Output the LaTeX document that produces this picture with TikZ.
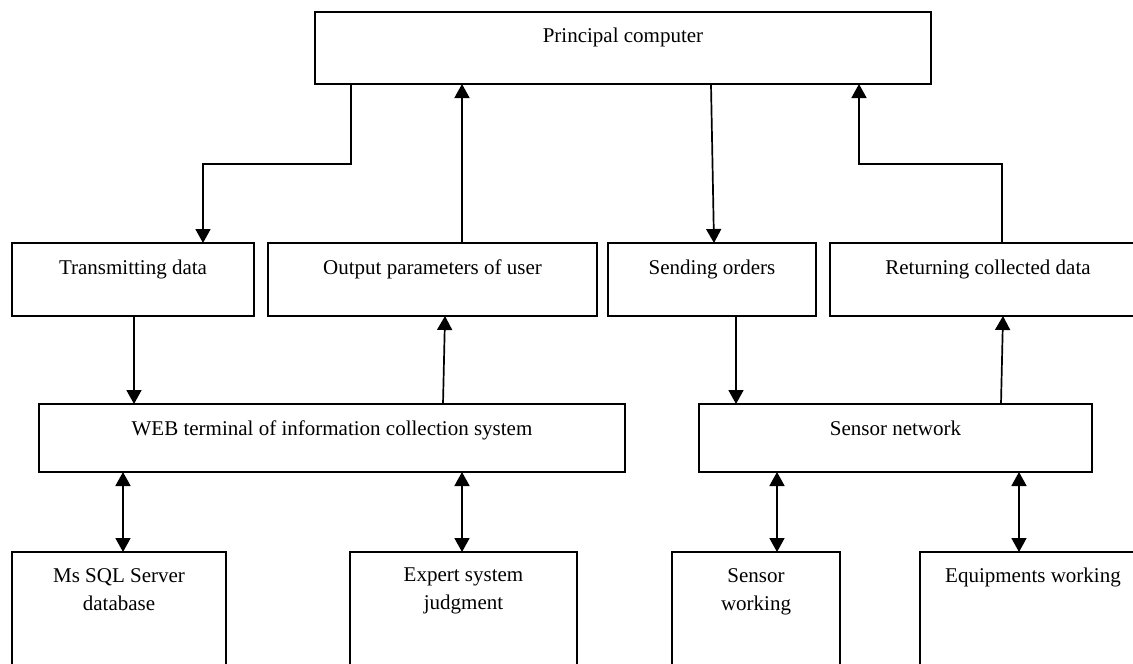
\documentclass[tikz,border=0pt]{standalone}
\usepackage{fontspec}
\setmainfont{Liberation Serif}
\usetikzlibrary{arrows.meta}
\tikzset{
  box/.style={draw, line width=1.7pt, inner sep=0pt, outer sep=0pt},
  lbl/.style={inner sep=0pt, font=\fontsize{21}{28}\selectfont, align=center},
  arr/.style={line width=1.7pt, -{Triangle[width=15pt,length=14pt]}},
  darr/.style={line width=1.7pt, {Triangle[width=15pt,length=14pt]}-{Triangle[width=15pt,length=14pt]}},
}
\begin{document}
\begin{tikzpicture}[x=1pt,y=-1pt]
\useasboundingbox (0,0) rectangle (1133,664);
\fill[white] (0,0) rectangle (1133,664);
\clip (0,0) rectangle (1133,664);

% boxes
\node[box, minimum width=616pt, minimum height=72pt] (pc) at (623,48) {};
\node[box, minimum width=242pt, minimum height=73pt] (td) at (133,279.5) {};
\node[box, minimum width=329pt, minimum height=73pt] (op) at (432.5,279.5) {};
\node[box, minimum width=208pt, minimum height=73pt] (so) at (712,279.5) {};
\node[box, minimum width=316pt, minimum height=73pt] (rc) at (988,279.5) {};
\node[box, minimum width=586pt, minimum height=68pt] (web) at (332,438) {};
\node[box, minimum width=393pt, minimum height=68pt] (sn) at (895.5,438) {};
\node[box, minimum width=214pt, minimum height=148pt] (ms) at (119,626) {};
\node[box, minimum width=227pt, minimum height=148pt] (ex) at (463.5,626) {};
\node[box, minimum width=168pt, minimum height=148pt] (sw) at (756,626) {};
\node[box, minimum width=226pt, minimum height=148pt] (eq) at (1033,626) {};

% texts
\node[lbl, anchor=base] (pc-t) at (623,42) {Principal computer};
\node[lbl, anchor=base] (td-t) at (133,274) {Transmitting data};
\node[lbl, anchor=base] (op-t) at (432.5,274) {Output parameters of user};
\node[lbl, anchor=base] (so-t) at (712,274) {Sending orders};
\node[lbl, anchor=base] (rc-t) at (988,274) {Returning collected data};
\node[lbl, anchor=base] (web-t) at (332,435) {WEB terminal of information collection system};
\node[lbl, anchor=base] (sn-t) at (895.5,435) {Sensor network};
\node[lbl, anchor=north] (ms-t) at (119,568) {Ms SQL Server\\database};
\node[lbl, anchor=north] (ex-t) at (463.5,568) {Expert system\\judgment};
\node[lbl, anchor=north] (sw-t) at (756,568) {Sensor\\working};
\node[lbl, anchor=base] (eq-t) at (1033,582) {Equipments working};

% connector guide coordinates
\coordinate (k1) at (351,164);
\coordinate (k2) at (203,164);
\coordinate (k3) at (462,0);
\coordinate (k4) at (711,0);
\coordinate (k5) at (714,0);
\coordinate (k6) at (1002,164);
\coordinate (k7) at (859,164);
\coordinate (k8) at (134,0);
\coordinate (k9) at (443,0);
\coordinate (k10) at (445,0);
\coordinate (k11) at (736,0);
\coordinate (k12) at (1001,0);
\coordinate (k13) at (1003,0);
\coordinate (d1) at (123,0);
\coordinate (d2) at (462,0);
\coordinate (d3) at (777,0);
\coordinate (d4) at (1019,0);

% connectors
\draw[arr] (k1 |- pc.south) -- (k1) -- (k2) -- (k2 |- td.north);
\draw[arr] (k3 |- op.north) -- (k3 |- pc.south);
\draw[arr] (k4 |- pc.south) -- (k5 |- so.north);
\draw[arr] (k6 |- rc.north) -- (k6) -- (k7) -- (k7 |- pc.south);
\draw[arr] (k8 |- td.south) -- (k8 |- web.north);
\draw[arr] (k9 |- web.north) -- (k10 |- op.south);
\draw[arr] (k11 |- so.south) -- (k11 |- sn.north);
\draw[arr] (k12 |- sn.north) -- (k13 |- rc.south);
\draw[darr] (d1 |- web.south) -- (d1 |- ms.north);
\draw[darr] (d2 |- web.south) -- (d2 |- ex.north);
\draw[darr] (d3 |- sn.south) -- (d3 |- sw.north);
\draw[darr] (d4 |- sn.south) -- (d4 |- eq.north);
\end{tikzpicture}
\end{document}
